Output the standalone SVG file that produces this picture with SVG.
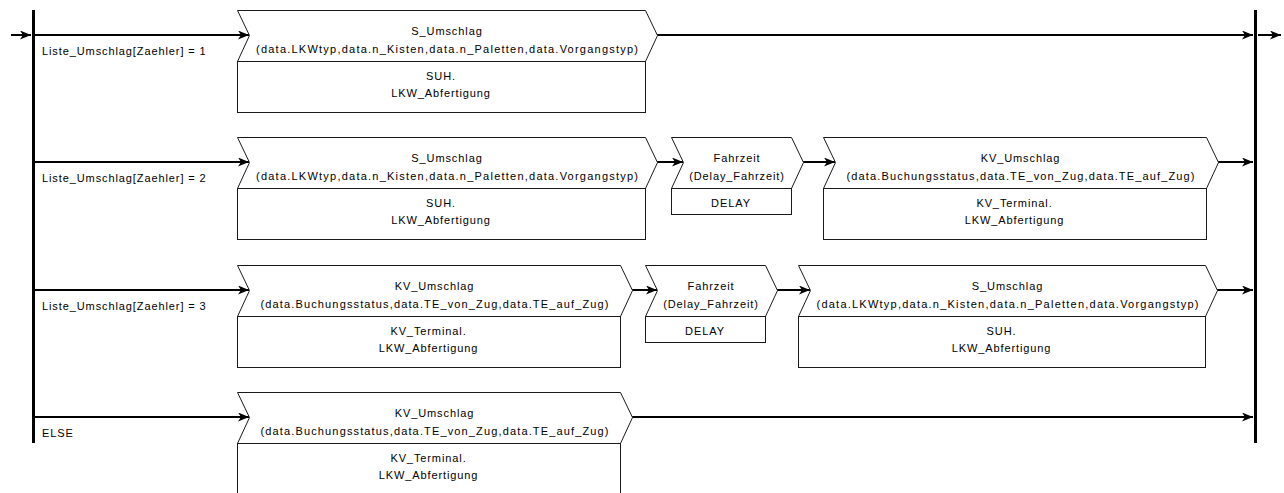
<svg xmlns="http://www.w3.org/2000/svg" width="1284" height="493" viewBox="0 0 1284 493">
  <style>
    .shape { fill: #ffffff; stroke: #1a1a1a; stroke-width: 1; }
    .bar { fill: #000000; }
    .conn { fill: none; stroke: #000000; stroke-width: 2; marker-end: url(#head); }
    text { font-family: "Liberation Sans", Arial, sans-serif; font-size: 11px; fill: #000000; letter-spacing: 0.9px; }
    .c { text-anchor: middle; }
    .fit { letter-spacing: 0; }
  </style>
  <defs>
    <marker id="head" markerUnits="userSpaceOnUse" markerWidth="12" markerHeight="10" refX="11" refY="4.5" orient="auto">
      <path d="M0,0 L11,4.5 L0,9 L3,4.5 Z" fill="#000000"/>
    </marker>
  </defs>

  <!-- fork and join bars -->
  <g id="fork">
    <rect class="bar" x="32" y="10" width="3" height="433"/>
  </g>
  <g id="join">
    <rect class="bar" x="1254" y="10" width="3" height="433"/>
  </g>

  <!-- connectors -->
  <g id="connectors">
    <path class="conn" d="M11,35 H31"/>
    <path class="conn" d="M1258,35 H1281"/>

    <path class="conn" d="M35,35 H249"/>
    <path class="conn" d="M657,35 H1253"/>

    <path class="conn" d="M35,162 H249"/>
    <path class="conn" d="M657,162 H683"/>
    <path class="conn" d="M803,162 H835"/>
    <path class="conn" d="M1218,162 H1253"/>

    <path class="conn" d="M35,290 H249"/>
    <path class="conn" d="M632,290 H657"/>
    <path class="conn" d="M777,290 H810"/>
    <path class="conn" d="M1217,290 H1253"/>

    <path class="conn" d="M35,417 H249"/>
    <path class="conn" d="M632,417 H1253"/>

    <text x="42" y="54.5">Liste_Umschlag[Zaehler] = 1</text>
    <text x="42" y="181.5">Liste_Umschlag[Zaehler] = 2</text>
    <text x="42" y="309.5">Liste_Umschlag[Zaehler] = 3</text>
    <text x="42" y="437">ELSE</text>
  </g>

  <!-- branch 1 -->
  <g id="s_umschlag_1">
    <path class="shape" d="M237.5,10.5 H645.5 L657.5,35.5 L645.5,61.5 H237.5 L249.5,35.5 Z"/>
    <rect class="shape" x="237.5" y="61.5" width="408" height="51"/>
    <text class="c" x="447" y="35">S_Umschlag</text>
    <text class="c fit" x="447" y="53" textLength="382" lengthAdjust="spacing">(data.LKWtyp,data.n_Kisten,data.n_Paletten,data.Vorgangstyp)</text>
    <text class="c" x="441" y="80">SUH.</text>
    <text class="c" x="441" y="97">LKW_Abfertigung</text>
  </g>

  <!-- branch 2 -->
  <g id="s_umschlag_2">
    <path class="shape" d="M237.5,137.5 H645.5 L657.5,162.5 L645.5,188.5 H237.5 L249.5,162.5 Z"/>
    <rect class="shape" x="237.5" y="188.5" width="408" height="51"/>
    <text class="c" x="447" y="162">S_Umschlag</text>
    <text class="c fit" x="447" y="180" textLength="382" lengthAdjust="spacing">(data.LKWtyp,data.n_Kisten,data.n_Paletten,data.Vorgangstyp)</text>
    <text class="c" x="441" y="207">SUH.</text>
    <text class="c" x="441" y="224">LKW_Abfertigung</text>
  </g>

  <g id="fahrzeit_2">
    <path class="shape" d="M671.5,137.5 H791.5 L803.5,162.5 L791.5,188.5 H671.5 L683.5,162.5 Z"/>
    <rect class="shape" x="671.5" y="188.5" width="120" height="26"/>
    <text class="c" x="737" y="162">Fahrzeit</text>
    <text class="c" x="737" y="180">(Delay_Fahrzeit)</text>
    <text class="c" x="731" y="207">DELAY</text>
  </g>

  <g id="kv_umschlag_2">
    <path class="shape" d="M823.5,137.5 H1206.5 L1218.5,162.5 L1206.5,188.5 H823.5 L835.5,162.5 Z"/>
    <rect class="shape" x="823.5" y="188.5" width="383" height="51"/>
    <text class="c" x="1020.5" y="162">KV_Umschlag</text>
    <text class="c fit" x="1020.5" y="180" textLength="348" lengthAdjust="spacing">(data.Buchungsstatus,data.TE_von_Zug,data.TE_auf_Zug)</text>
    <text class="c" x="1014.5" y="207">KV_Terminal.</text>
    <text class="c" x="1014.5" y="224">LKW_Abfertigung</text>
  </g>

  <!-- branch 3 -->
  <g id="kv_umschlag_3">
    <path class="shape" d="M237.5,265.5 H620.5 L632.5,290.5 L620.5,316.5 H237.5 L249.5,290.5 Z"/>
    <rect class="shape" x="237.5" y="316.5" width="383" height="51"/>
    <text class="c" x="434.5" y="290">KV_Umschlag</text>
    <text class="c fit" x="434.5" y="308" textLength="348" lengthAdjust="spacing">(data.Buchungsstatus,data.TE_von_Zug,data.TE_auf_Zug)</text>
    <text class="c" x="428.5" y="335">KV_Terminal.</text>
    <text class="c" x="428.5" y="352">LKW_Abfertigung</text>
  </g>

  <g id="fahrzeit_3">
    <path class="shape" d="M645.5,265.5 H765.5 L777.5,290.5 L765.5,316.5 H645.5 L657.5,290.5 Z"/>
    <rect class="shape" x="645.5" y="316.5" width="120" height="26"/>
    <text class="c" x="711" y="290">Fahrzeit</text>
    <text class="c" x="711" y="308">(Delay_Fahrzeit)</text>
    <text class="c" x="705" y="335">DELAY</text>
  </g>

  <g id="s_umschlag_3">
    <path class="shape" d="M798.5,265.5 H1205.5 L1217.5,290.5 L1205.5,316.5 H798.5 L810.5,290.5 Z"/>
    <rect class="shape" x="798.5" y="316.5" width="407" height="51"/>
    <text class="c" x="1007.5" y="290">S_Umschlag</text>
    <text class="c fit" x="1007.5" y="308" textLength="382" lengthAdjust="spacing">(data.LKWtyp,data.n_Kisten,data.n_Paletten,data.Vorgangstyp)</text>
    <text class="c" x="1001.5" y="335">SUH.</text>
    <text class="c" x="1001.5" y="352">LKW_Abfertigung</text>
  </g>

  <!-- else branch -->
  <g id="kv_umschlag_else">
    <path class="shape" d="M237.5,392.5 H620.5 L632.5,417.5 L620.5,443.5 H237.5 L249.5,417.5 Z"/>
    <rect class="shape" x="237.5" y="443.5" width="383" height="51"/>
    <text class="c" x="434.5" y="417">KV_Umschlag</text>
    <text class="c fit" x="434.5" y="435" textLength="348" lengthAdjust="spacing">(data.Buchungsstatus,data.TE_von_Zug,data.TE_auf_Zug)</text>
    <text class="c" x="428.5" y="462">KV_Terminal.</text>
    <text class="c" x="428.5" y="479">LKW_Abfertigung</text>
  </g>
</svg>
